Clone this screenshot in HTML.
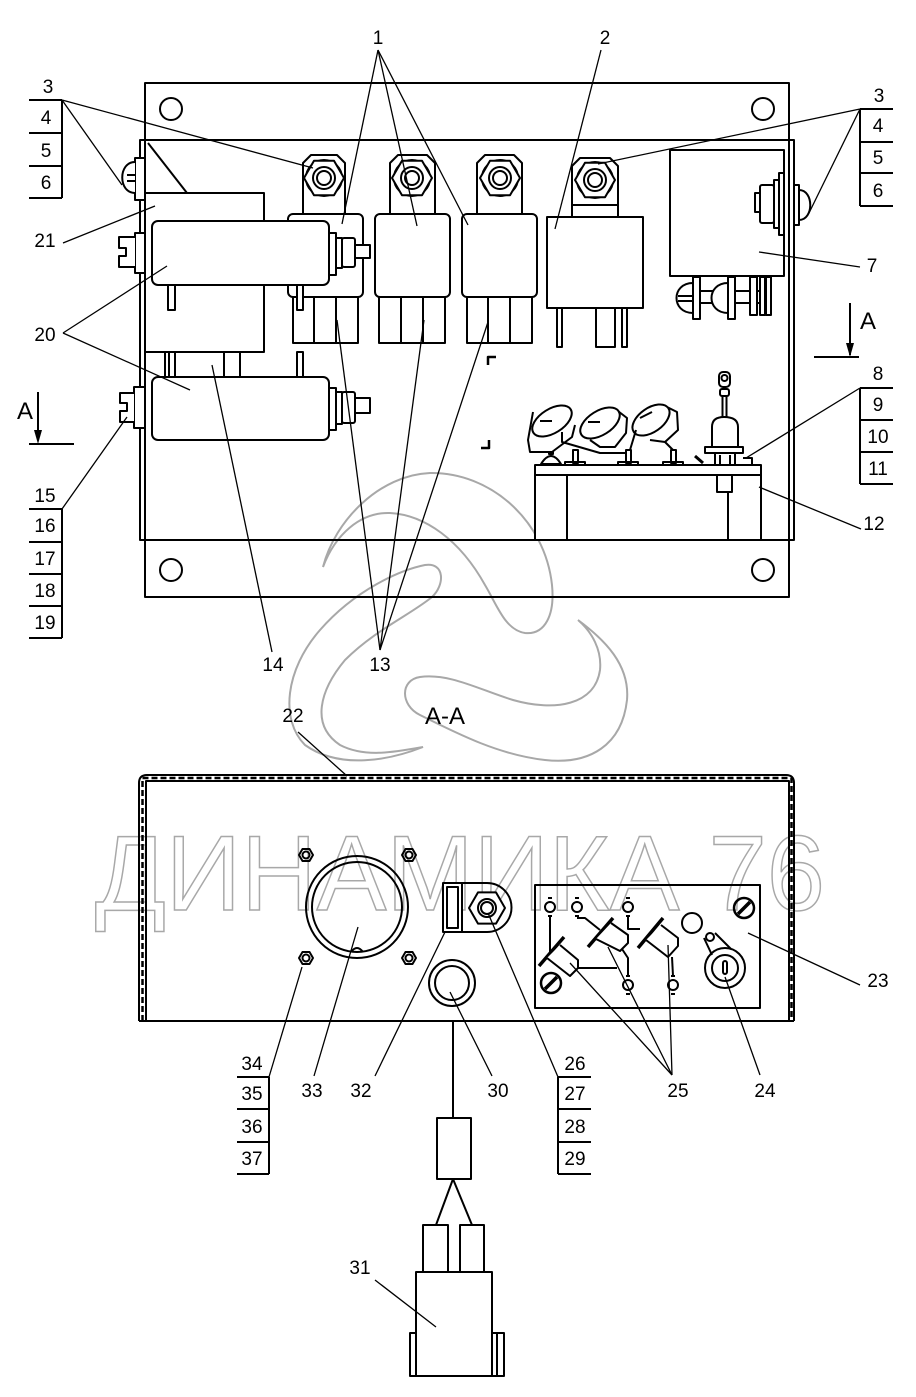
<!DOCTYPE html>
<html><head><meta charset="utf-8"><style>
html,body{margin:0;padding:0;background:#fff;}
svg{display:block;}
text{font-family:"Liberation Sans",sans-serif;fill:#000;}
</style></head><body>
<svg width="916" height="1397" viewBox="0 0 916 1397" xmlns="http://www.w3.org/2000/svg">
<rect width="916" height="1397" fill="#fff"/>

<!-- Watermark -->
<g fill="none" stroke="#a8a8a8" stroke-width="2">
<path d="M323,567 C335,520 380,475 430,473 C490,472 545,520 552,585 C555,615 545,635 525,633 C505,630 497,605 485,585 C460,540 425,515 390,513 C360,512 335,535 323,567 Z"/>
<path d="M423,747 C390,760 340,770 305,745 C280,720 285,670 320,630 C355,590 400,570 425,565 C445,562 445,585 432,597 C410,615 375,630 345,660 C320,690 310,725 340,745 C365,758 395,752 423,747 Z"/>
<path d="M578,620 C605,640 630,665 627,700 C622,745 590,765 545,760 C500,755 460,735 420,715 C400,705 400,680 420,677 C450,673 480,690 513,700 C555,712 595,705 600,670 C602,650 592,632 578,620 Z"/>
</g>
<text x="95" y="910" font-size="107" textLength="730" lengthAdjust="spacingAndGlyphs" style="fill:none;stroke:#a8a8a8;stroke-width:1.5">ДИНАМИКА 76</text>

<g fill="none" stroke="#000" stroke-width="2" stroke-linejoin="round">
<!-- Plate -->
<rect x="145" y="83" width="644" height="514"/>
<path d="M140,540 L140,140 L794,140 L794,540 Z" />
<circle cx="171" cy="109" r="11"/>
<circle cx="763" cy="109" r="11"/>
<circle cx="171" cy="570" r="11"/>
<circle cx="763" cy="570" r="11"/>

<!-- Bracket 21 -->
<rect x="145" y="193" width="119" height="159" fill="#fff"/>
<line x1="148" y1="143" x2="187" y2="193"/>

<!-- pins between 21 and lower cylinder -->
<rect x="165" y="352" width="10" height="25" fill="#fff"/>
<line x1="169" y1="352" x2="169" y2="377"/>
<rect x="224" y="352" width="16" height="25" fill="#fff"/>
<rect x="297" y="352" width="6" height="25" fill="#fff"/>

<!-- Relay 1a -->
<path d="M303,214 L303,163 L311,155 L337,155 L345,163 L345,214" fill="#fff"/>
<rect x="288" y="214" width="75" height="83" rx="5" fill="#fff"/>
<rect x="293" y="297" width="65" height="46" fill="#fff"/>
<line x1="314" y1="297" x2="314" y2="343"/><line x1="336" y1="297" x2="336" y2="343"/>
<!-- Relay 1b -->
<path d="M390,214 L390,163 L398,155 L427,155 L435,163 L435,214" fill="#fff"/>
<rect x="375" y="214" width="75" height="83" rx="5" fill="#fff"/>
<rect x="379" y="297" width="66" height="46" fill="#fff"/>
<line x1="401" y1="297" x2="401" y2="343"/><line x1="423" y1="297" x2="423" y2="343"/>
<!-- Relay 1c -->
<path d="M477,214 L477,163 L485,155 L514,155 L522,163 L522,214" fill="#fff"/>
<rect x="462" y="214" width="75" height="83" rx="5" fill="#fff"/>
<rect x="467" y="297" width="65" height="46" fill="#fff"/>
<line x1="488" y1="297" x2="488" y2="343"/><line x1="510" y1="297" x2="510" y2="343"/>
<!-- Relay 2 -->
<path d="M572,217 L572,166 L580,158 L610,158 L618,166 L618,217" fill="#fff"/>
<line x1="572" y1="205" x2="618" y2="205"/>
<rect x="547" y="217" width="96" height="91" fill="#fff"/>
<rect x="557" y="308" width="5" height="39"/>
<rect x="596" y="308" width="19" height="39"/>
<rect x="622" y="308" width="5" height="39"/>

<!-- Nuts -->
<g>
<circle cx="324" cy="178" r="18"/>
<polygon points="304,178 314,160.7 334,160.7 344,178 334,195.3 314,195.3" fill="#fff"/>
<circle cx="324" cy="178" r="11"/><circle cx="324" cy="178" r="7"/>
<circle cx="412" cy="178" r="18"/>
<polygon points="392,178 402,160.7 422,160.7 432,178 422,195.3 402,195.3" fill="#fff"/>
<circle cx="412" cy="178" r="11"/><circle cx="412" cy="178" r="7"/>
<circle cx="500" cy="178" r="18"/>
<polygon points="480,178 490,160.7 510,160.7 520,178 510,195.3 490,195.3" fill="#fff"/>
<circle cx="500" cy="178" r="11"/><circle cx="500" cy="178" r="7"/>
<circle cx="595" cy="180" r="18"/>
<polygon points="575,180 585,162.7 605,162.7 615,180 605,197.3 585,197.3" fill="#fff"/>
<circle cx="595" cy="180" r="11"/><circle cx="595" cy="180" r="7"/>
</g>

<!-- pins under upper cylinder -->
<rect x="168" y="280" width="7" height="30" fill="#fff"/>
<rect x="297" y="285" width="6" height="25" fill="#fff"/>

<!-- Upper cylinder 20 -->
<rect x="152" y="221" width="177" height="64" rx="6" fill="#fff"/>
<rect x="135" y="233" width="10" height="40" fill="#fff"/>
<path d="M135,237 L119,237 L119,248 L126,248 L126,256 L119,256 L119,267 L135,267" fill="#fff"/>
<rect x="329" y="233" width="7" height="42" fill="#fff"/>
<rect x="336" y="238" width="6" height="30" fill="#fff"/>
<rect x="342" y="238" width="13" height="29" rx="2" fill="#fff"/>
<rect x="355" y="245" width="15" height="13" fill="#fff"/>

<!-- Lower cylinder 20 -->
<rect x="152" y="377" width="177" height="63" rx="6" fill="#fff"/>
<rect x="134" y="387" width="11" height="41" fill="#fff"/>
<path d="M134,393 L120,393 L120,403 L127,403 L127,411 L120,411 L120,422 L134,422" fill="#fff"/>
<rect x="329" y="388" width="7" height="42" fill="#fff"/>
<rect x="336" y="392" width="6" height="32" fill="#fff"/>
<rect x="342" y="392" width="13" height="31" rx="2" fill="#fff"/>
<rect x="355" y="398" width="15" height="15" fill="#fff"/>

<!-- Left screw 3 -->
<rect x="135" y="158" width="10" height="42" fill="#fff"/>
<path d="M135,162 C118,162 118,193 135,193" fill="#fff"/>
<line x1="127" y1="175" x2="135" y2="175"/><line x1="127" y1="181" x2="135" y2="181"/>

<!-- Relay 7 -->
<rect x="670" y="150" width="114" height="126" fill="#fff"/>
<rect x="779" y="173" width="5" height="62" fill="#fff"/>
<rect x="774" y="180" width="5" height="48" fill="#fff"/>
<rect x="760" y="185" width="14" height="38" rx="2" fill="#fff"/>
<rect x="755" y="193" width="5" height="19" fill="#fff"/>
<rect x="794" y="185" width="5" height="40" fill="#fff"/>
<path d="M799,190 C814,190 814,220 799,220"/>
<!-- screws below 7 -->
<path d="M693,283 C671,283 671,313 693,313 Z" fill="#fff"/>
<line x1="678" y1="296" x2="693" y2="296"/><line x1="678" y1="301" x2="693" y2="301"/>
<rect x="693" y="277" width="7" height="42" fill="#fff"/>
<rect x="700" y="291" width="28" height="12" fill="#fff"/>
<path d="M728,283 C706,283 706,313 728,313 Z" fill="#fff"/>
<rect x="728" y="277" width="7" height="42" fill="#fff"/>
<rect x="735" y="291" width="25" height="12" fill="#fff"/>
<rect x="750" y="277" width="7" height="38" fill="#fff"/>
<rect x="760" y="277" width="5" height="38" fill="#fff"/>
<rect x="766" y="277" width="5" height="38" fill="#fff"/>

<!-- Corner marks -->
<path d="M496,357 L488,357 L488,365" stroke-width="2.5"/>
<path d="M481,448 L489,448 L489,440" stroke-width="2.5"/>

<!-- Fuse block 12 -->
<rect x="535" y="465" width="226" height="10" fill="#fff"/>
<rect x="535" y="475" width="226" height="65" fill="#fff"/>
<line x1="567" y1="475" x2="567" y2="540"/>
<line x1="728" y1="492" x2="728" y2="540"/>
<rect x="717" y="475" width="15" height="17" fill="#fff"/>
<!-- terminals -->
<path d="M541,464 Q551,448 561,464 Z" fill="#fff"/>
<rect x="549" y="446" width="4" height="8"/>
<rect x="573" y="450" width="5" height="13"/><rect x="565" y="462" width="20" height="3"/>
<rect x="626" y="450" width="5" height="13"/><rect x="618" y="462" width="20" height="3"/>
<rect x="671" y="450" width="5" height="13"/><rect x="663" y="462" width="20" height="3"/>
<!-- holders -->
<path d="M533,412 L528,440 L530,452 L552,452 L572,437 L575,425" fill="#fff"/>
<ellipse cx="552" cy="421" rx="22" ry="12" transform="rotate(-32 552 421)" fill="#fff"/>
<line x1="540" y1="421" x2="552" y2="421"/>
<path d="M562,432 L562,442 L600,453 L626,453"/>
<path d="M614,408 L627,418 L626,433 L615,447 L600,447 L590,440" fill="#fff"/>
<ellipse cx="600" cy="423" rx="22" ry="12" transform="rotate(-32 600 423)" fill="#fff"/>
<line x1="588" y1="422" x2="600" y2="422"/>
<path d="M663,405 L677,412 L678,430 L665,442 L650,440" fill="#fff"/>
<ellipse cx="651" cy="420" rx="21" ry="12" transform="rotate(-35 651 420)" fill="#fff"/>
<line x1="640" y1="418" x2="652" y2="412"/>
<path d="M636,430 L630,450"/>
<path d="M665,442 L673,450"/>
<!-- item 8 -->
<rect x="719" y="372" width="11" height="15" rx="4" fill="#fff"/>
<circle cx="724.5" cy="378" r="3"/>
<rect x="720" y="389" width="9" height="7" rx="2" fill="#fff"/>
<rect x="722.5" y="396" width="4" height="21" fill="#fff"/>
<path d="M712,448 L712,427 Q712,417 724,417 Q738,417 738,427 L738,448" fill="#fff"/>
<rect x="705" y="447" width="38" height="6" fill="#fff"/>
<rect x="715" y="453" width="20" height="12"/>
<line x1="720" y1="455" x2="720" y2="465"/><line x1="730" y1="455" x2="730" y2="465"/>
<line x1="695" y1="456" x2="703" y2="463" stroke-width="3"/>
<path d="M743,458 L752,458 L752,464"/>
</g>

<!-- Leaders top -->
<g stroke="#000" stroke-width="1.3" fill="none">
<line x1="378" y1="50" x2="342" y2="224"/>
<line x1="378" y1="50" x2="417" y2="226"/>
<line x1="378" y1="50" x2="468" y2="225"/>
<line x1="601" y1="50" x2="555" y2="229"/>
<line x1="62" y1="100" x2="313" y2="168"/>
<line x1="62" y1="100" x2="122" y2="185"/>
<line x1="860" y1="109" x2="598" y2="164"/>
<line x1="860" y1="109" x2="809" y2="213"/>
<line x1="63" y1="243" x2="155" y2="206"/>
<line x1="63" y1="333" x2="167" y2="266"/>
<line x1="63" y1="333" x2="190" y2="390"/>
<line x1="860" y1="267" x2="759" y2="252"/>
<line x1="62" y1="509" x2="127" y2="417"/>
<line x1="860" y1="388" x2="746" y2="458"/>
<line x1="861" y1="529" x2="759" y2="487"/>
<line x1="272" y1="652" x2="212" y2="365"/>
<line x1="380" y1="650" x2="337" y2="320"/>
<line x1="380" y1="650" x2="424" y2="320"/>
<line x1="380" y1="650" x2="488" y2="322"/>
</g>

<!-- Tables top -->
<g stroke="#000" stroke-width="2" fill="none">
<path d="M29,100 L62,100 M29,133 L62,133 M29,166 L62,166 M29,198 L62,198 M62,100 L62,198"/>
<path d="M860,109 L893,109 M860,142 L893,142 M860,173 L893,173 M860,206 L893,206 M860,109 L860,206"/>
<path d="M29,509 L62,509 M29,542 L62,542 M29,574 L62,574 M29,606 L62,606 M29,638 L62,638 M62,509 L62,638"/>
<path d="M860,388 L893,388 M860,420 L893,420 M860,452 L893,452 M860,484 L893,484 M860,388 L860,484"/>
<!-- section A marks -->
<path d="M850,303 L850,355 M814,357 L859,357"/>
<path d="M38,392 L38,440 M29,444 L74,444"/>
</g>
<path d="M846,343 L850,357 L854,343 Z" fill="#000"/>
<path d="M34,430 L38,444 L42,430 Z" fill="#000"/>

<!-- Labels top -->
<g font-size="19" text-anchor="middle">
<text x="378" y="44">1</text>
<text x="605" y="44">2</text>
<text x="48" y="93">3</text>
<text x="46" y="124">4</text>
<text x="46" y="157">5</text>
<text x="46" y="189">6</text>
<text x="879" y="102">3</text>
<text x="878" y="132">4</text>
<text x="878" y="164">5</text>
<text x="878" y="197">6</text>
<text x="45" y="247">21</text>
<text x="45" y="341">20</text>
<text x="872" y="272">7</text>
<text x="45" y="502">15</text>
<text x="45" y="532">16</text>
<text x="45" y="565">17</text>
<text x="45" y="597">18</text>
<text x="45" y="629">19</text>
<text x="878" y="380">8</text>
<text x="878" y="411">9</text>
<text x="878" y="443">10</text>
<text x="878" y="475">11</text>
<text x="874" y="530">12</text>
<text x="273" y="671">14</text>
<text x="380" y="671">13</text>
<text x="293" y="722">22</text>
</g>
<text x="868" y="329" font-size="24" text-anchor="middle">A</text>
<text x="25" y="419" font-size="24" text-anchor="middle">A</text>
<text x="445" y="724" font-size="24" text-anchor="middle">A-A</text>

<!-- Section A-A box -->
<g fill="none" stroke="#000" stroke-width="2" stroke-linejoin="round">
<path d="M139,1021 L139,783 Q139,775 147,775 L786,775 Q794,775 794,783 L794,1021"/>
<path d="M146,1021 L146,781 L789,781 L789,1021"/>
<path d="M142.5,1021 L142.5,778 L791.5,778 L791.5,1021" stroke-dasharray="6 3" stroke-width="2.5"/>
<line x1="139" y1="1021" x2="794" y2="1021"/>

<!-- nuts -->
<polygon points="299,855 302.5,849 309.5,849 313,855 309.5,861 302.5,861"/><circle cx="306" cy="855" r="3.5"/>
<polygon points="402,855 405.5,849 412.5,849 416,855 412.5,861 405.5,861"/><circle cx="409" cy="855" r="3.5"/>
<polygon points="299,958 302.5,952 309.5,952 313,958 309.5,964 302.5,964"/><circle cx="306" cy="958" r="3.5"/>
<polygon points="402,958 405.5,952 412.5,952 416,958 412.5,964 405.5,964"/><circle cx="409" cy="958" r="3.5"/>

<!-- 33 -->
<circle cx="357" cy="907" r="51"/>
<circle cx="357" cy="907" r="45"/>
<path d="M351,952 Q357,944 363,952"/>

<!-- 32 + 26 -->
<path d="M462,883 L487,883 A24.5,24.5 0 0 1 487,932 L462,932"/>
<rect x="443" y="883" width="19" height="49" fill="#fff"/>
<rect x="447" y="887" width="11" height="41"/>
<polygon points="469,908 478,892.4 496,892.4 505,908 496,923.6 478,923.6" fill="#fff"/>
<circle cx="487" cy="908" r="9"/><circle cx="487" cy="908" r="6"/>

<!-- 30 -->
<circle cx="452" cy="983" r="23"/>
<circle cx="452" cy="983" r="17"/>

<!-- Panel 23 -->
<rect x="535" y="885" width="225" height="123"/>
<circle cx="744" cy="908" r="10" stroke-width="2.5"/>
<line x1="738" y1="914" x2="750" y2="902" stroke-width="3.5"/>
<circle cx="551" cy="983" r="10" stroke-width="2.5"/>
<line x1="545" y1="989" x2="557" y2="977" stroke-width="3.5"/>
<circle cx="692" cy="923" r="10"/>
<!-- key 24 -->
<circle cx="725" cy="968" r="20"/>
<circle cx="725" cy="968" r="13"/>
<rect x="723" y="961" width="4" height="13" rx="2"/>
<circle cx="710" cy="937" r="4"/>
<path d="M704,938 L712,955 M715,933 L731,949"/>
<!-- terminals -->
<g>
<circle cx="550" cy="907" r="5"/><path d="M548,898 L552,898 M548,916 L552,916"/>
<circle cx="577" cy="907" r="5"/><path d="M575,898 L579,898 M575,916 L579,916"/>
<circle cx="628" cy="907" r="5"/><path d="M626,898 L630,898 M626,916 L630,916"/>
<circle cx="628" cy="985" r="5"/><path d="M626,976 L630,976 M626,994 L630,994"/>
<circle cx="673" cy="985" r="5"/><path d="M671,976 L675,976 M671,994 L675,994"/>
</g>
<!-- wires -->
<path d="M550,917 L550,953"/>
<path d="M577,918 L585,918 L600,930"/>
<path d="M628,917 L628,929 L640,929"/>
<path d="M578,968 L617,968"/>
<path d="M622,949 L628,958 L628,976"/>
<path d="M672,957 L673,976"/>
<!-- switches 25 -->
<line x1="539" y1="966" x2="564" y2="937" stroke-width="3.5"/>
<path d="M547,958 L570,976 L578,968 L578,960 L560,945" fill="#fff"/>
<line x1="588" y1="947" x2="613" y2="918" stroke-width="3.5"/>
<path d="M596,939 L620,951 L628,943 L628,935 L611,923" fill="#fff"/>
<line x1="638" y1="948" x2="663" y2="918" stroke-width="3.5"/>
<path d="M646,940 L668,957 L678,946 L678,938 L661,925" fill="#fff"/>

<!-- cable & connector 31 -->
<line x1="453" y1="1021" x2="453" y2="1118"/>
<rect x="437" y="1118" width="34" height="61"/>
<path d="M453,1179 L436,1225 M453,1179 L472,1225"/>
<rect x="423" y="1225" width="25" height="47"/>
<rect x="460" y="1225" width="24" height="47"/>
<rect x="416" y="1272" width="76" height="104"/>
<rect x="410" y="1333" width="6" height="43"/>
<rect x="492" y="1333" width="12" height="43"/>
<line x1="497" y1="1333" x2="497" y2="1376"/>
</g>

<!-- Leaders A-A -->
<g stroke="#000" stroke-width="1.3" fill="none">
<line x1="298" y1="732" x2="347" y2="776"/>
<line x1="269" y1="1077" x2="302" y2="967"/>
<line x1="314" y1="1076" x2="358" y2="927"/>
<line x1="375" y1="1076" x2="445" y2="932"/>
<line x1="492" y1="1076" x2="450" y2="992"/>
<line x1="558" y1="1077" x2="488" y2="913"/>
<line x1="672" y1="1075" x2="570" y2="963"/>
<line x1="672" y1="1075" x2="608" y2="947"/>
<line x1="672" y1="1075" x2="668" y2="945"/>
<line x1="760" y1="1075" x2="725" y2="977"/>
<line x1="860" y1="985" x2="748" y2="933"/>
<line x1="375" y1="1280" x2="436" y2="1327"/>
</g>
<g stroke="#000" stroke-width="2" fill="none">
<path d="M237,1077 L269,1077 M237,1109 L269,1109 M237,1142 L269,1142 M237,1174 L269,1174 M269,1077 L269,1174"/>
<path d="M558,1077 L591,1077 M558,1109 L591,1109 M558,1142 L591,1142 M558,1174 L591,1174 M558,1077 L558,1174"/>
</g>
<g font-size="19" text-anchor="middle">
<text x="252" y="1070">34</text>
<text x="252" y="1100">35</text>
<text x="252" y="1133">36</text>
<text x="252" y="1165">37</text>
<text x="312" y="1097">33</text>
<text x="361" y="1097">32</text>
<text x="498" y="1097">30</text>
<text x="575" y="1070">26</text>
<text x="575" y="1100">27</text>
<text x="575" y="1133">28</text>
<text x="575" y="1165">29</text>
<text x="678" y="1097">25</text>
<text x="765" y="1097">24</text>
<text x="878" y="987">23</text>
<text x="360" y="1274">31</text>
</g>
</svg>
</body></html>
